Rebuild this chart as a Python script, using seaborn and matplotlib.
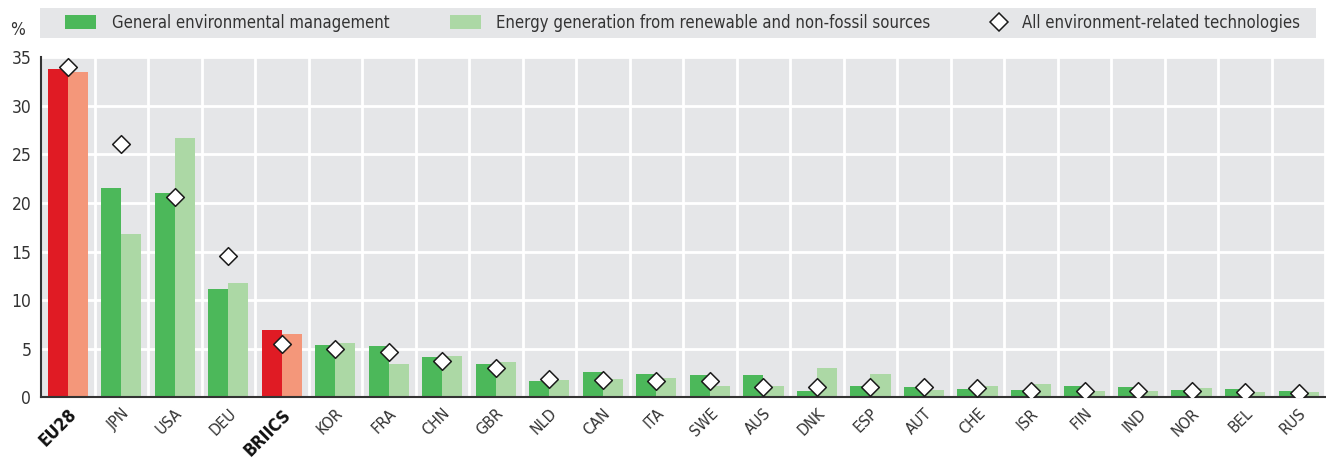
import numpy as np
import pandas as pd
import matplotlib
matplotlib.use("Agg")
import matplotlib.pyplot as plt
from matplotlib.patches import Patch, Rectangle
from matplotlib.lines import Line2D
import seaborn as sns

categories = ["EU28", "JPN", "USA", "DEU", "BRIICS", "KOR", "FRA", "CHN", "GBR", "NLD",
              "CAN", "ITA", "SWE", "AUS", "DNK", "ESP", "AUT", "CHE", "ISR", "FIN",
              "IND", "NOR", "BEL", "RUS"]
general_env = [33.8, 21.5, 21.0, 11.2, 6.9, 5.4, 5.3, 4.1, 3.4, 1.7,
               2.65, 2.45, 2.3, 2.25, 0.7, 1.2, 1.1, 0.9, 0.8, 1.2,
               1.1, 0.8, 0.9, 0.7]
energy_gen = [33.5, 16.8, 26.7, 11.8, 6.5, 5.6, 3.4, 4.3, 3.6, 1.8,
              1.9, 2.0, 1.2, 1.2, 3.05, 2.45, 0.8, 1.2, 1.4, 0.6,
              0.7, 1.0, 0.5, 0.5]
all_env = [34.0, 26.1, 20.6, 14.5, 5.5, 5.0, 4.7, 3.75, 3.0, 1.9,
           1.8, 1.7, 1.65, 1.1, 1.1, 1.1, 1.05, 0.97, 0.7, 0.7,
           0.6, 0.6, 0.5, 0.4]
series_names = ["General environmental management",
                "Energy generation from renewable and non-fossil sources",
                "All environment-related technologies"]
highlight = ["EU28", "BRIICS"]
y_ticks = [0, 5, 10, 15, 20, 25, 30, 35]

C_GEN = "#4cb85a"
C_ENE = "#acd8a5"
C_GEN_H = "#e01b24"
C_ENE_H = "#f4977a"
BG = "#e5e6e8"
TXT = "#333333"

sns.set_theme(style="white")
plt.rcParams["font.family"] = ["DejaVu Sans"]
plt.rcParams["font.stretch"] = "condensed"

df = pd.DataFrame({
    "country": categories * 2,
    "value": general_env + energy_gen,
    "series": [series_names[0]] * len(categories) + [series_names[1]] * len(categories),
})

W, H = 1326, 459
fig = plt.figure(figsize=(W / 100, H / 100), dpi=100)
ax = fig.add_axes([41 / W, 61.7 / H, 1 - 41 / W - 0.0005, (397.3 - 57.3) / H])
ax.set_facecolor(BG)

sns.barplot(data=df, x="country", y="value", hue="series", order=categories,
            hue_order=series_names[:2], palette=[C_GEN, C_ENE], width=0.75,
            saturation=1, gap=0, legend=False, ax=ax, zorder=2)

for i, c in enumerate(categories):
    if c in highlight:
        ax.containers[0][i].set_facecolor(C_GEN_H)
        ax.containers[1][i].set_facecolor(C_ENE_H)
for cont in ax.containers:
    for p in cont:
        p.set_edgecolor("none")

sns.stripplot(x=categories, y=all_env, order=categories, jitter=False, marker="D",
              size=9, color="white", edgecolor="#1a1a1a", linewidth=1.1, ax=ax, zorder=5)

ax.set_xlim(-0.5, len(categories) - 0.5)
ax.set_ylim(0, 35)
ax.set_yticks(y_ticks)
ax.set_yticklabels([str(t) for t in y_ticks], fontsize=12.5, color=TXT)
ax.set_xlabel("")
ax.set_ylabel("")

ax.set_xticks(range(len(categories)))
ax.set_xticklabels(categories, rotation=45, ha="right", rotation_mode="anchor",
                   fontsize=11.5, color=TXT)
for lbl in ax.get_xticklabels():
    if lbl.get_text() in highlight:
        lbl.set_fontweight("bold")
        lbl.set_fontsize(12.5)
        lbl.set_color("#111111")
ax.set_xticks(np.arange(-0.5, len(categories), 1.0)[1:], minor=True)
ax.tick_params(axis="x", which="major", length=0, pad=6)
ax.tick_params(axis="x", which="minor", length=5, direction="in", color="#555555", width=1)
ax.tick_params(axis="y", length=3, color="#333333", pad=4)

ax.grid(axis="y", which="major", color="white", linewidth=2, zorder=0)
ax.grid(axis="x", which="minor", color="white", linewidth=2, zorder=0)
ax.grid(axis="x", which="major", visible=False)
ax.set_axisbelow(True)

for s in ["top", "right"]:
    ax.spines[s].set_visible(False)
for s in ["left", "bottom"]:
    ax.spines[s].set_color("#333333")
    ax.spines[s].set_linewidth(1.5)

fig.text(10 / W, 1 - 30 / H, "%", fontsize=12.5, color=TXT, va="center", ha="left")

# legend background band
fig.patches.append(Rectangle((40 / W, 1 - 38 / H), (1316 - 40) / W, 30 / H,
                             transform=fig.transFigure, facecolor=BG,
                             edgecolor="none", zorder=0))
handles = [Patch(facecolor=C_GEN, edgecolor="none"),
           Patch(facecolor=C_ENE, edgecolor="none"),
           Line2D([], [], marker="D", linestyle="none", markersize=9,
                  markerfacecolor="white", markeredgecolor="#1a1a1a", markeredgewidth=1.1)]
leg_x = [65, 450, 984]
leg_pad = [0.95, 0.9, 0.4]
for h, name, lx, pad in zip(handles, series_names, leg_x, leg_pad):
    lg = fig.legend([h], [name], loc="center left",
                    bbox_to_anchor=(lx / W, 1 - 23 / H),
                    frameon=False, fontsize=12,
                    handlelength=1.85, handleheight=0.95, handletextpad=pad,
                    borderaxespad=0, borderpad=0)
    for t in lg.get_texts():
        t.set_color(TXT)

fig.savefig("out.png", dpi=100)
